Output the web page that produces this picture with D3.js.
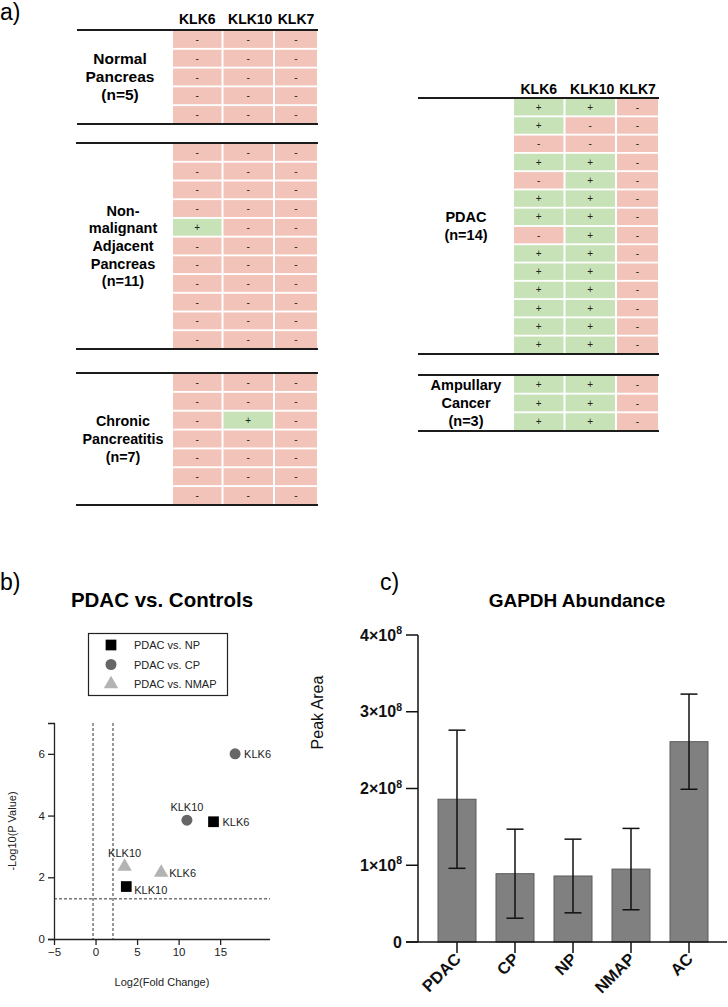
<!DOCTYPE html>
<html><head><meta charset="utf-8">
<script src="https://cdn.jsdelivr.net/npm/d3@7"></script>
<style>
body{margin:0;background:#fff;}
svg{font-family:"Liberation Sans",Arial,sans-serif;}
</style></head>
<body>
<svg id="c" width="728" height="1007"></svg>
<script>
// ---------- DATA ----------
const genes = ["KLK6","KLK10","KLK7"];
const normalLabel = ["Normal","Pancreas","(n=5)"];
const normalRows = ["---","---","---","---","---"];
const nmapLabel = ["Non-","malignant","Adjacent","Pancreas","(n=11)"];
const nmapRows = ["---","---","---","---","+--","---","---","---","---","---","---"];
const cpLabel = ["Chronic","Pancreatitis","(n=7)"];
const cpRows = ["---","---","-+-","---","---","---","---"];
const pdacLabel = ["PDAC","(n=14)"];
const pdacRows = ["++-","+--","---","++-","-+-","++-","++-","-+-","++-","++-","++-","++-","++-","++-"];
const acLabel = ["Ampullary","Cancer","(n=3)"];
const acRows = ["++-","++-","++-"];

const legendNames = ["PDAC vs. NP","PDAC vs. CP","PDAC vs. NMAP"];
const volcanoGene = ["KLK6","KLK10","KLK6","KLK10","KLK6","KLK10"];
const volcanoComp = ["PDAC vs. CP","PDAC vs. CP","PDAC vs. NP","PDAC vs. NP","PDAC vs. NMAP","PDAC vs. NMAP"];
const volcanoFC = [16.8, 11.0, 14.2, 3.7, 7.9, 3.5];
const volcanoP = [6.0, 3.85, 3.8, 1.7, 2.15, 2.35];
const volcanoXTicks = [-5, 0, 5, 10, 15];
const volcanoYTicks = [0, 2, 4, 6];
const fcCut = [-0.3, 2.1];
const pCut = 1.301;

const barCats = ["PDAC","CP","NP","NMAP","AC"];
const barMean = [1.86e8, 0.89e8, 0.86e8, 0.95e8, 2.61e8];
const barSD = [0.90e8, 0.58e8, 0.48e8, 0.53e8, 0.62e8];
const barYTicks = [0, 1e8, 2e8, 3e8, 4e8];

// ---------- DRAW ----------
const svg = d3.select("#c");
const FONT = "'Liberation Sans',Arial,sans-serif";
const pink = "#f2c3b9", green = "#c7e2b7", lineCol = "#1c1c1c";

svg.append("text").attr("x",0).attr("y",20).attr("font-size",23).text("a)");

function header(edges, y){
  genes.forEach((g,i)=>{
    svg.append("text").attr("x",(edges[i]+edges[i+1])/2 + (i==1?2:0)).attr("y",y)
      .attr("text-anchor","middle").attr("font-weight","bold").attr("font-size",14).text(g);
  });
}
function block(rows, label, top, bottom, lineX0, edges, labelX, fs){
  const n = rows.length;
  const y = d3.scaleBand().domain(d3.range(n)).range([top+1, bottom-1]).paddingInner(0.1);
  const g = svg.append("g");
  rows.forEach((r,ri)=>{
    for(let ci=0; ci<3; ci++){
      const v = r[ci];
      g.append("rect").attr("x",edges[ci]+1).attr("y",y(ri))
        .attr("width",edges[ci+1]-edges[ci]-2).attr("height",y.bandwidth())
        .attr("fill", v==="+"?green:pink);
      g.append("text").attr("x",(edges[ci]+edges[ci+1])/2).attr("y",y(ri)+y.bandwidth()/2+3.5)
        .attr("text-anchor","middle").attr("font-size",10).attr("fill","#222").text(v);
    }
  });
  [top,bottom].forEach(yy=>g.append("line").attr("x1",lineX0).attr("x2",edges[3])
     .attr("y1",yy).attr("y2",yy).attr("stroke",lineCol).attr("stroke-width",2));
  const mid = (top+bottom)/2, lh = 17.6;
  label.forEach((t,i)=>{
    g.append("text").attr("x",labelX).attr("y",mid + (i-(label.length-1)/2)*lh + 5)
      .attr("text-anchor","middle").attr("font-weight","bold").attr("font-size",fs).text(t);
  });
}
const leftEdges = [172, 222.5, 274, 318];
const rightEdges = [513, 564.5, 616, 659];
header(leftEdges, 24);
block(normalRows, normalLabel, 30, 124, 77, leftEdges, 120, 15.5);
block(nmapRows, nmapLabel, 143, 349, 76, leftEdges, 123, 14.5);
block(cpRows, cpLabel, 373, 505, 76, leftEdges, 123, 14.3);
header(rightEdges, 94);
block(pdacRows, pdacLabel, 98, 354, 418, rightEdges, 466, 14.5);
block(acRows, acLabel, 375, 431, 418, rightEdges, 466, 14.5);

// ---------- Panel b: volcano ----------
svg.append("text").attr("x",0).attr("y",590).attr("font-size",23).text("b)");
svg.append("text").attr("x",162).attr("y",607).attr("text-anchor","middle")
  .attr("font-weight","bold").attr("font-size",20.5).text("PDAC vs. Controls");

const vx = d3.scaleLinear().domain([-5, 21]).range([54, 270]);
const vy = d3.scaleLinear().domain([0, 7]).range([939, 723]);
const symType = d3.scaleOrdinal().domain(legendNames).range([d3.symbolSquare, d3.symbolCircle, d3.symbolTriangle]);
const symCol = d3.scaleOrdinal().domain(legendNames).range(["#000","#666","#b3b3b3"]);
const symSize = d3.scaleOrdinal().domain(legendNames).range([115, 95, 90]);

const vg = svg.append("g");
fcCut.forEach(c=>vg.append("line").attr("x1",vx(c)).attr("x2",vx(c)).attr("y1",vy(7)).attr("y2",vy(0))
  .attr("stroke","#333").attr("stroke-dasharray","3,2").attr("stroke-width",1));
vg.append("line").attr("x1",vx(-5)).attr("x2",270).attr("y1",vy(pCut)).attr("y2",vy(pCut))
  .attr("stroke","#333").attr("stroke-dasharray","3,2").attr("stroke-width",1);

const xAx = vg.append("g").attr("transform",`translate(0,${vy(0)})`)
  .call(d3.axisBottom(vx).tickValues(volcanoXTicks).tickSize(6).tickFormat(d3.format("d")));
const yAx = vg.append("g").attr("transform",`translate(${vx(-5)},0)`)
  .call(d3.axisLeft(vy).tickValues(volcanoYTicks).tickSize(6).tickFormat(d3.format("d")));
[xAx,yAx].forEach(a=>{a.select(".domain").attr("stroke","#222").attr("stroke-width",1.3);
  a.selectAll(".tick line").attr("stroke","#222").attr("stroke-width",1.3);
  a.selectAll("text").attr("font-size",11.5).attr("font-family",FONT).attr("fill","#222");});
xAx.select(".domain").attr("d",`M54,0.5H270`);

vg.append("text").attr("x",162).attr("y",986).attr("text-anchor","middle").attr("font-size",11).attr("fill","#222").text("Log2(Fold Change)");
vg.append("text").attr("transform",`translate(16,${vy(3.5)}) rotate(-90)`).attr("text-anchor","middle")
  .attr("font-size",11).attr("fill","#222").text("-Log10(P Value)");

volcanoFC.forEach((fc,i)=>{
  const comp = volcanoComp[i];
  vg.append("path").attr("d",d3.symbol().type(symType(comp)).size(symSize(comp))())
    .attr("transform",`translate(${vx(fc)},${vy(volcanoP[i])})`).attr("fill",symCol(comp));
});
const labelPos = [[9,4,"start"],[0,-9,"middle"],[9,4,"start"],[8,7,"start"],[8,4,"start"],[0,-9,"middle"]];
volcanoFC.forEach((fc,i)=>{
  const lp = labelPos[i];
  vg.append("text").attr("x",vx(fc)+lp[0]).attr("y",vy(volcanoP[i])+lp[1]).attr("text-anchor",lp[2])
    .attr("font-size",11).attr("fill","#222").text(volcanoGene[i]);
});
const lg = svg.append("g");
lg.append("rect").attr("x",88.5).attr("y",633.5).attr("width",139).attr("height",62)
  .attr("fill","none").attr("stroke","#222").attr("stroke-width",1.2);
legendNames.forEach((nm,i)=>{
  const yy = 645 + i*19.5;
  lg.append("path").attr("d",d3.symbol().type(symType(nm)).size(symSize(nm))())
    .attr("transform",`translate(111,${yy})`).attr("fill",symCol(nm));
  lg.append("text").attr("x",134).attr("y",yy+4).attr("font-size",11).attr("fill","#222").text(nm);
});

// ---------- Panel c: bars ----------
svg.append("text").attr("x",380).attr("y",590).attr("font-size",23).text("c)");
svg.append("text").attr("x",577).attr("y",607).attr("text-anchor","middle")
  .attr("font-weight","bold").attr("font-size",19).text("GAPDH Abundance");

const bx = d3.scalePoint().domain(barCats).range([457, 689]);
const by = d3.scaleLinear().domain([0, 4e8]).range([942, 635]);
const bw = 38;
const cg = svg.append("g");
barCats.forEach((c,i)=>{
  cg.append("rect").attr("x",bx(c)-bw/2).attr("y",by(barMean[i])).attr("width",bw)
    .attr("height",by(0)-by(barMean[i])).attr("fill","#808080").attr("stroke","#5a5a5a").attr("stroke-width",1);
  const lo = by(barMean[i]-barSD[i]), hi = by(barMean[i]+barSD[i]);
  cg.append("line").attr("x1",bx(c)).attr("x2",bx(c)).attr("y1",lo).attr("y2",hi).attr("stroke","#111").attr("stroke-width",1.5);
  [lo,hi].forEach(yy=>cg.append("line").attr("x1",bx(c)-8.5).attr("x2",bx(c)+8.5).attr("y1",yy).attr("y2",yy)
    .attr("stroke","#111").attr("stroke-width",1.5));
});
cg.append("line").attr("x1",418).attr("x2",418).attr("y1",by(4e8)).attr("y2",by(0)).attr("stroke","#111").attr("stroke-width",1.5);
cg.append("line").attr("x1",406).attr("x2",727).attr("y1",by(0)).attr("y2",by(0)).attr("stroke","#111").attr("stroke-width",1.5);
barYTicks.forEach(t=>{
  cg.append("line").attr("x1",406).attr("x2",418).attr("y1",by(t)).attr("y2",by(t)).attr("stroke","#111").attr("stroke-width",1.5);
  const tx = cg.append("text").attr("x",402).attr("y",by(t)+5.5).attr("text-anchor","end")
    .attr("font-weight","bold").attr("font-size",16).attr("fill","#111");
  if(t===0){ tx.text("0"); }
  else {
    const m = t/1e8;
    tx.append("tspan").text(m+"×10");
    tx.append("tspan").attr("dy",-6.5).attr("font-size",10.5).text("8");
  }
});
barCats.forEach(c=>{
  cg.append("line").attr("x1",bx(c)).attr("x2",bx(c)).attr("y1",by(0)).attr("y2",by(0)+11).attr("stroke","#111").attr("stroke-width",1.5);
  cg.append("text").attr("transform",`translate(${bx(c)+5},${by(0)+18}) rotate(-45)`)
    .attr("text-anchor","end").attr("font-weight","bold").attr("font-size",16.5).attr("fill","#111").text(c);
});
cg.append("text").attr("transform",`translate(323,${by(2e8)-76}) rotate(-90)`).attr("text-anchor","middle")
  .attr("font-size",16).attr("fill","#111").text("Peak Area");
</script>
</body></html>
